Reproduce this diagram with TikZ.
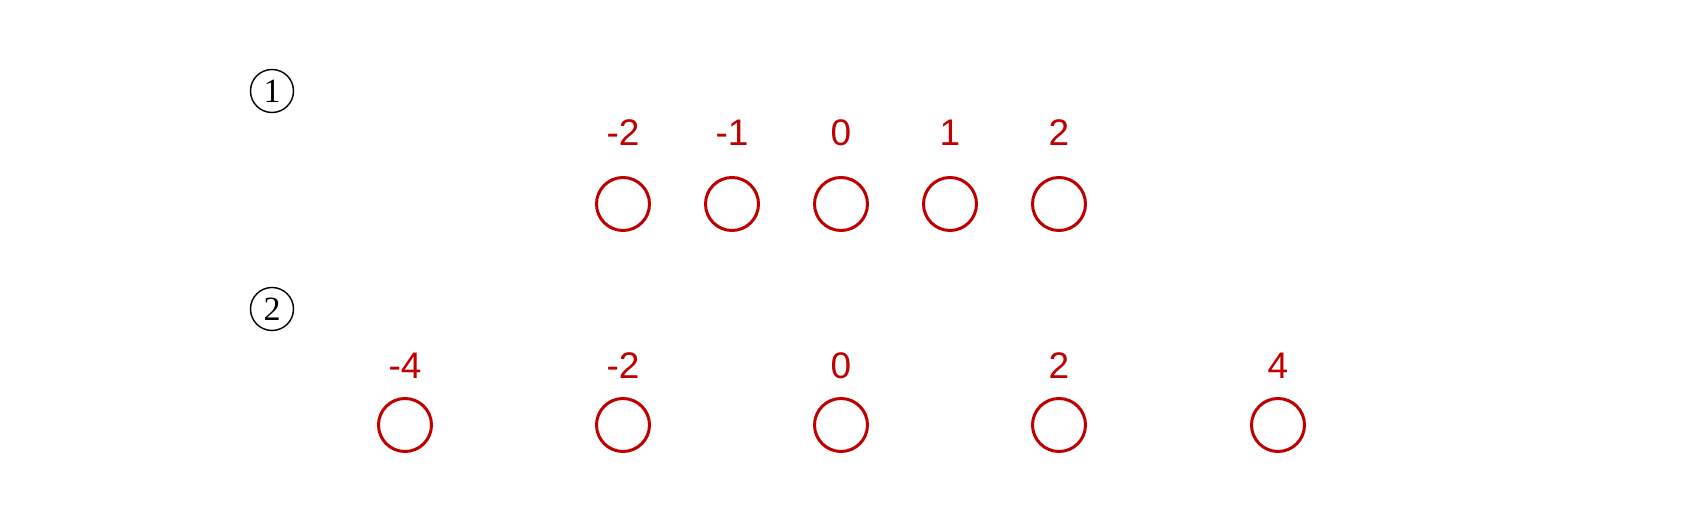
\documentclass[tikz,border=0pt]{standalone}
\usepackage{fontspec}
\newfontfamily\numfont{Liberation Sans}
\newfontfamily\tagfont{Liberation Serif}
\definecolor{darkred}{HTML}{C00000}
\begin{document}
\begin{tikzpicture}[ x=0.5pt, y=-0.5pt,
      tag/.style={circle,draw=black,line width=0.7pt,inner sep=0,minimum size=21.5pt,font=\tagfont\fontsize{17}{17}\selectfont},
      slot/.style={circle,draw=darkred,line width=1.5pt,inner sep=0,minimum size=26.5pt},
      num/.style={text=darkred,inner sep=0,font=\numfont\fontsize{18.5}{18.5}\selectfont} ]
      \useasboundingbox (0,0) rectangle (1704,512);

      % tags
      \node[tag] (t1) at (272,91) {1};
      \node[tag] (t2) at (272,309) {2};

      % first row
      \node[slot] (a1) at (623,204) {};
      \node[slot] (a2) at (732,204) {};
      \node[slot] (a3) at (841,204) {};
      \node[slot] (a4) at (950,204) {};
      \node[slot] (a5) at (1059,204) {};

      \node[num] (la1) at (623,133) {-2};
      \node[num] (la2) at (732,133) {-1};
      \node[num] (la3) at (841,133) {0};
      \node[num] (la4) at (950,133) {1};
      \node[num] (la5) at (1059,133) {2};

      % second row
      \node[slot] (b1) at (405,425) {};
      \node[slot] (b2) at (623,425) {};
      \node[slot] (b3) at (841,425) {};
      \node[slot] (b4) at (1059,425) {};
      \node[slot] (b5) at (1278,425) {};

      \node[num] (lb1) at (405,366) {-4};
      \node[num] (lb2) at (623,366) {-2};
      \node[num] (lb3) at (841,366) {0};
      \node[num] (lb4) at (1059,366) {2};
      \node[num] (lb5) at (1278,366) {4};
    \end{tikzpicture}
\end{document}
